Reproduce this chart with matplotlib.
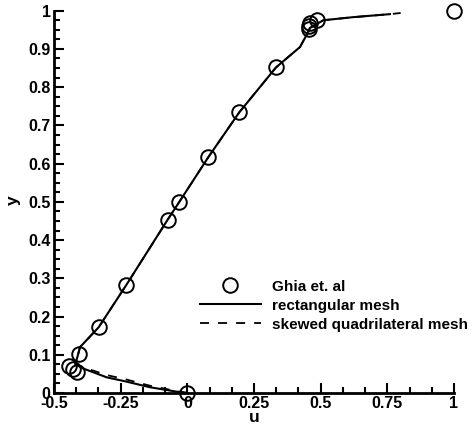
import matplotlib
matplotlib.use("Agg")
import matplotlib.pyplot as plt
from matplotlib.ticker import MultipleLocator
from matplotlib.lines import Line2D

plt.rcParams['font.family'] = ['Liberation Sans', 'DejaVu Sans']
plt.rcParams['font.weight'] = 'bold'

# Ghia et al. reference points (u, y)
ghia_u = [1.0, 0.487, 0.46, 0.457, 0.455, 0.3325, 0.195, 0.079, -0.03, -0.074,
          -0.23, -0.3325, -0.4075, -0.4425, -0.43, -0.415, 0.0]
ghia_y = [1.0, 0.9766, 0.9688, 0.9609, 0.9531, 0.8516, 0.7344, 0.6172, 0.5, 0.4531,
          0.2813, 0.1719, 0.1016, 0.0703, 0.0625, 0.0547, 0.0]

# rectangular mesh (solid)
rect_u = [0.0, -0.04, -0.14, -0.227, -0.3025, -0.39, -0.42, -0.41, -0.4025, -0.3325,
          -0.23, -0.074, -0.03, 0.079, 0.195, 0.3325, 0.4225, 0.45, 0.46, 0.51, 0.62, 0.76]
rect_y = [0.0, 0.0035, 0.015, 0.0296, 0.041, 0.064, 0.075, 0.10, 0.12, 0.1719,
          0.2813, 0.4531, 0.5, 0.6172, 0.7344, 0.8516, 0.905, 0.94, 0.955, 0.975, 0.983, 0.991]

# skewed quadrilateral mesh (dashed)
skew_u = [0.0, -0.04, -0.14, -0.227, -0.3025, -0.39, -0.42, -0.41, -0.4025, -0.3325,
          -0.23, -0.074, -0.03, 0.079, 0.195, 0.3325, 0.4225, 0.45, 0.46, 0.51, 0.62, 0.76, 0.80]
skew_y = [0.0, 0.005, 0.019, 0.035, 0.047, 0.067, 0.076, 0.10, 0.12, 0.1719,
          0.2813, 0.4531, 0.5, 0.6172, 0.7344, 0.8516, 0.905, 0.94, 0.955, 0.975, 0.983, 0.991, 0.994]

xticks = [-0.5, -0.25, 0, 0.25, 0.5, 0.75, 1]
xticklabels = ['-0.5', '-0.25', '0', '0.25', '0.5', '0.75', '1']
yticks = [0, 0.1, 0.2, 0.3, 0.4, 0.5, 0.6, 0.7, 0.8, 0.9, 1]
yticklabels = ['0', '0.1', '0.2', '0.3', '0.4', '0.5', '0.6', '0.7', '0.8', '0.9', '1']

fig = plt.figure(figsize=(4.74, 4.26), dpi=100)
ax = fig.add_axes([54/474, 33/426, 400/474, 382.3/426])

ax.plot(skew_u, skew_y, color='black', lw=1.3, ls=(0, (5, 5)))
ax.plot(rect_u, rect_y, color='black', lw=1.5)
ax.plot(ghia_u, ghia_y, ls='none', marker='o', ms=10.5, mfc='none', mec='black',
        mew=1.4, clip_on=False)

ax.set_xlim(-0.5, 1)
ax.set_ylim(0, 1)
ax.set_xticks(xticks)
ax.set_xticklabels(xticklabels)
ax.set_yticks(yticks)
ax.set_yticklabels(yticklabels)
ax.xaxis.set_minor_locator(MultipleLocator(1/12))
ax.yaxis.set_minor_locator(MultipleLocator(0.025))
ax.tick_params(which='both', direction='in', top=False, right=False, width=1.5,
               labelsize=11.5)
ax.tick_params(which='major', length=7, pad=2.5)
ax.tick_params(which='minor', length=4)
for lab in ax.get_xticklabels() + ax.get_yticklabels():
    lab.set_fontweight('bold')

for s in ['top', 'right']:
    ax.spines[s].set_visible(False)
for s in ['left', 'bottom']:
    ax.spines[s].set_linewidth(2)

ax.text(0.5, 426 - 418, 'u', transform=ax.transAxes, fontsize=12.5, fontweight='bold',
        ha='center', va='center')
fig.text(13/474, 1 - 200/426, 'y', fontsize=12.5, fontweight='bold', rotation=90,
         ha='center', va='center')
# position u label in pixel coordinates
ax.texts[-1].set_transform(fig.dpi_scale_trans)
ax.texts[-1].set_position((254/100, (426 - 418)/100))

handles = [
    Line2D([], [], ls='none', marker='o', ms=10.5, mfc='none', mec='black', mew=1.4),
    Line2D([], [], color='black', lw=1.5),
    Line2D([], [], color='black', lw=1.3, ls=(0, (5, 5))),
]
labels = ['Ghia et. al', 'rectangular mesh', 'skewed quadrilateral mesh']
leg = fig.legend(handles, labels, loc='upper left', bbox_to_anchor=(186/474, 1 - 266/426),
                 frameon=False, handlelength=4.0, handletextpad=0.7, labelspacing=0.33,
                 prop={'weight': 'bold', 'size': 11})

fig.savefig('out.png', dpi=100)
